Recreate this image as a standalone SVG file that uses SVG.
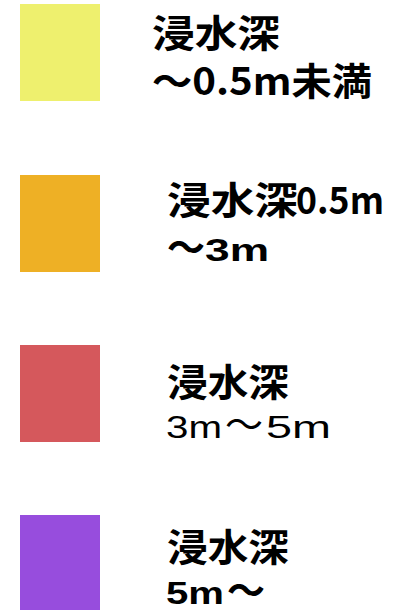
<svg xmlns="http://www.w3.org/2000/svg" width="394" height="610" viewBox="0 0 394 610">
<style>
text{font-family:"Noto Sans CJK JP",sans-serif;font-size:38px;fill:#000;font-weight:bold}
.lat{font-family:"Liberation Sans","Noto Sans CJK JP",sans-serif;font-size:32px}
.reg{font-weight:normal}
</style>
<rect width="394" height="610" fill="#fff"/>
<g id="item1">
<rect x="20" y="4" width="80" height="97" fill="#eef06e"/>
<text x="152" y="47" font-size="39" textLength="128" lengthAdjust="spacingAndGlyphs">浸水深</text>
<text x="152" y="95" font-size="40" textLength="220" lengthAdjust="spacingAndGlyphs">〜0.5m未満</text>
</g>
<g id="item2">
<rect x="20" y="175" width="80" height="97" fill="#eeb025"/>
<text x="167" y="214" textLength="131" lengthAdjust="spacingAndGlyphs">浸水深</text>
<text x="296" y="214" font-size="35" textLength="88" lengthAdjust="spacingAndGlyphs">0.5m</text>
<text x="167" y="261">〜</text>
<text class="lat" x="205" y="261" font-size="33" textLength="64" lengthAdjust="spacingAndGlyphs">3m</text>
</g>
<g id="item3">
<rect x="20" y="345" width="80" height="97" fill="#d5585c"/>
<text x="167" y="396" textLength="122" lengthAdjust="spacingAndGlyphs">浸水深</text>
<text class="lat reg" x="166" y="438" textLength="56" lengthAdjust="spacingAndGlyphs">3m</text>
<text class="reg" x="225" y="438">〜</text>
<text class="lat reg" x="266" y="438" textLength="65" lengthAdjust="spacingAndGlyphs">5m</text>
</g>
<g id="item4">
<rect x="20" y="515" width="80" height="97" fill="#974ddd"/>
<text x="167" y="561" textLength="122" lengthAdjust="spacingAndGlyphs">浸水深</text>
<text class="lat" x="166" y="604" textLength="58" lengthAdjust="spacingAndGlyphs">5m</text>
<text x="227" y="604">〜</text>
</g>
</svg>
